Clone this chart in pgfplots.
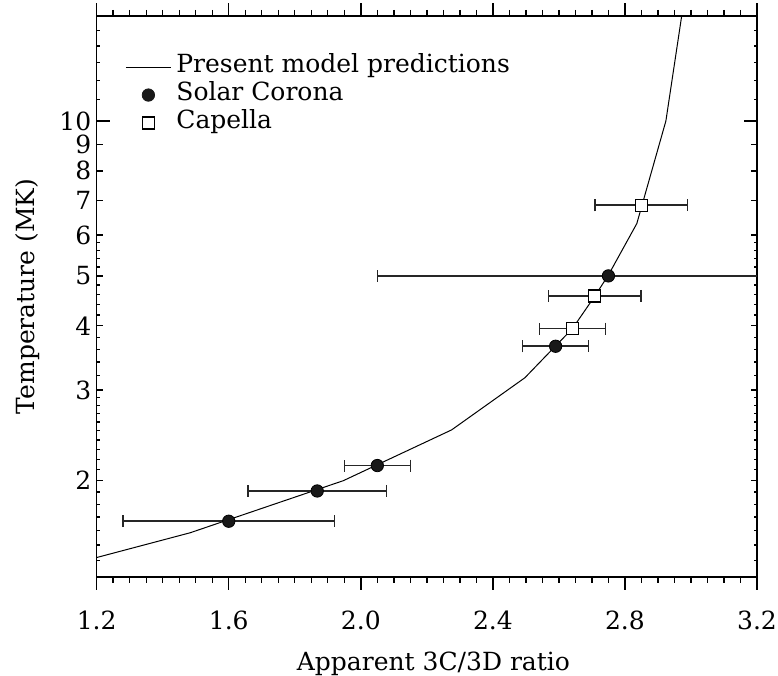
\documentclass[border=0pt]{standalone}
\usepackage{fontspec}
\setmainfont{DejaVu Serif}
\usepackage{pgfplots}
\pgfplotsset{compat=1.18}
\pgfplotstableread{
x y ex
1.600 1.668 0.32
1.868 1.910 0.21
2.050 2.140 0.10
2.590 3.650 0.10
2.750 5.000 0.70
}\solar
\pgfplotstableread{
x y ex
2.641 3.95 0.10
2.709 4.57 0.14
2.849 6.86 0.14
}\capella
\pgfplotstableread{
x y
1.200 1.418
1.483 1.584
1.947 2.000
2.275 2.510
2.497 3.170
2.589 3.650
2.641 3.950
2.709 4.570
2.750 5.020
2.836 6.320
2.924 10.00
2.975 16.50
}\model
\begin{document}
\fontsize{12.5bp}{15bp}\selectfont
\begin{tikzpicture}
\begin{axis}[
  scale only axis, width=330.2bp, height=280.5bp,
  xmin=1.2, xmax=3.2, ymode=log, ymin=1.3, ymax=16,
  axis line style={line width=0.7bp},
  every tick/.style={line width=0.7bp, black},
  major tick length=3bp, minor tick length=1.5bp,
  xtick={1.2,1.25,...,3.21},
  xticklabels={},
  extra x ticks={1.2,1.6,2.0,2.4,2.8,3.2},
  extra x tick labels={1.2,1.6,2.0,2.4,2.8,3.2},
  extra x tick style={/pgfplots/major tick length=6.3bp, /pgfplots/tick align=outside,
     /pgfplots/xticklabel style={inner sep=0pt, anchor=north, yshift=-10.5bp}},
  ytick={2,3,4,5,6,7,8,9,10},
  yticklabels={2,3,4,5,6,7,8,9,10},
  minor ytick={1.4,1.5,1.6,1.7,1.8,1.9,2.1,2.2,2.3,2.4,2.5,2.6,2.7,2.8,2.9,3.2,3.4,3.6,3.8,4.2,4.4,4.6,4.8,5.2,5.4,5.6,5.8,11,12,13,14,15},
  xtick align=outside, ytick align=inside,
  extra y ticks={10}, extra y tick labels={},
  extra y tick style={/pgfplots/major tick length=6.5bp, /pgfplots/tick align=inside},
  xticklabel style={inner sep=0pt, anchor=north},
  yticklabel style={inner sep=0pt, anchor=east, xshift=-2.5bp},
  xlabel={Apparent 3C/3D ratio},
  ylabel={Temperature (MK)},
  xlabel style={at={(axis description cs:0.51,-0.155)}, anchor=center},
  ylabel style={at={(axis description cs:-0.105,0.5)}, anchor=center},
  legend style={draw=none, fill=none, at={(axis description cs:0.0429,0.9346)}, anchor=north west,
    inner sep=0pt, row sep=0pt, column sep=2.5bp,
    nodes={inner sep=0pt, text height=9.5bp, text depth=4.5bp}},
  legend cell align=left,
]
\addplot[black, line width=0.5bp, mark=none,
  legend image code/.code={\draw[black, line width=0.5bp] (0bp,0bp) -- (22.5bp,0bp);}]
  table[x=x, y=y] {\model};
\addlegendentry{Present model predictions}
\addplot[black, only marks, mark=*, mark size=3.1bp, mark options={fill=black!90},
  legend image code/.code={\fill[black!90] (11.25bp,0bp) circle[radius=3.1bp];},
  error bars/.cd, x dir=both, x explicit,
  error bar style={line width=0.8bp, black!85},
  error mark options={line width=0.8bp, mark size=3bp, black!85, rotate=90}]
  table[x=x, y=y, x error=ex] {\solar};
\addlegendentry{Solar Corona}
\addplot[black, only marks, mark=square*, mark size=3bp, mark options={fill=white, line width=0.6bp},
  legend image code/.code={\draw[black, fill=white, line width=0.6bp] (8.25bp,-3bp) rectangle (14.25bp,3bp);},
  error bars/.cd, x dir=both, x explicit,
  error bar style={line width=0.8bp, black!85},
  error mark options={line width=0.8bp, mark size=3bp, black!85, rotate=90}]
  table[x=x, y=y, x error=ex] {\capella};
\addlegendentry{Capella}
\end{axis}
\pgfresetboundingbox
\path ([shift={(-48.35bp,-49.5bp)}]current axis.south west) rectangle ([shift={(10.5bp,8bp)}]current axis.north east);
\end{tikzpicture}
\end{document}
